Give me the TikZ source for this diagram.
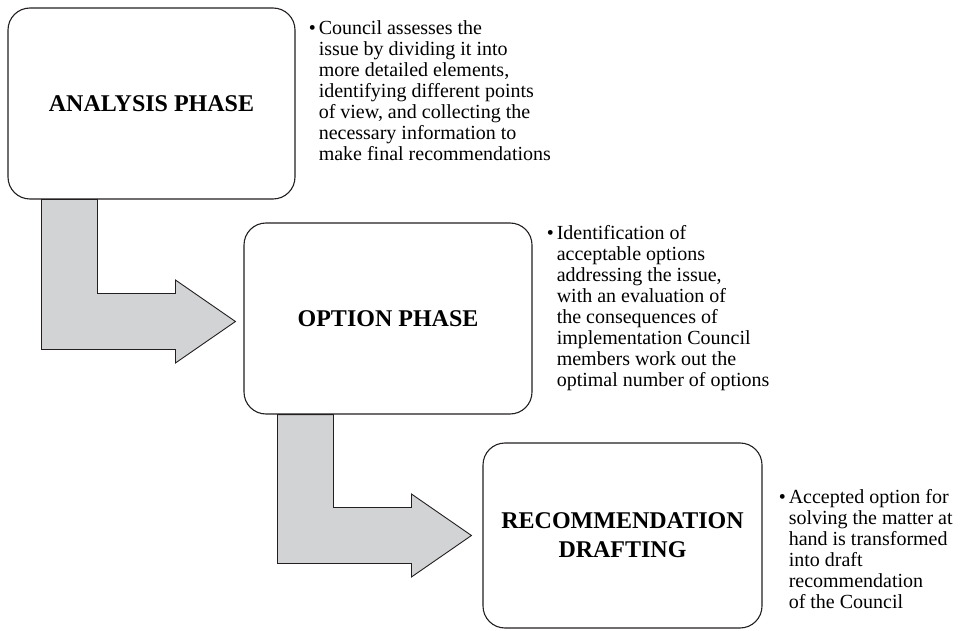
\documentclass[tikz,border=0pt]{standalone}
\usepackage{fontspec}
\setmainfont{Liberation Serif}
\usepackage{xcolor}
\usetikzlibrary{positioning, calc}

\definecolor{elbowgray}{RGB}{209,211,212}
\definecolor{inkline}{RGB}{35,31,32}

\tikzset{
  phase/.style={draw=inkline, line width=1.1pt, rounded corners=22pt, fill=white,
    align=center, inner sep=0pt, font=\fontsize{24}{29}\selectfont\bfseries},
  note/.style={anchor=north west, inner sep=0pt, font=\fontsize{20}{21}\selectfont},
  elbow/.style={draw=inkline, line width=0.9pt, fill=elbowgray, line join=miter}
}

\begin{document}
\begin{tikzpicture}[x=1pt, y=-1pt]
\useasboundingbox (0,0) rectangle (975,631);

% phase boxes
\node[phase, minimum width=287pt, minimum height=191pt] (ana) at (151.5,103.5) {ANALYSIS PHASE};
\node[phase, minimum width=288pt, minimum height=191pt] (opt) at (388,318.5) {OPTION PHASE};
\node[phase, minimum width=279pt, minimum height=185pt] (rec) at (622.5,535.5) {RECOMMENDATION\\DRAFTING};

% bent arrows between phases
\foreach \src/\dst/\gap/\dy in {ana/opt/8/3, opt/rec/11/0}
  \draw[elbow] ($(\src.south west)+(90,0)$)
    |- ($(\dst.west)+(-\gap-60,\dy-28)$) -- ++(0,-13.5)
    -- ($(\dst.west)+(-\gap,\dy)$)
    -- ($(\dst.west)+(-\gap-60,\dy+41.5)$) -- ++(0,-13.5)
    -| ($(\src.south west)+(34,0)$) -- cycle;

% notes
\node[note] (anatxt) at ($(ana.north east)+(13,12)$) {\textbullet\hspace{3pt}\begin{tabular}[t]{@{}l@{}}
  Council assesses the\\ issue by dividing it into\\ more detailed elements,\\
  identifying different points\\ of view, and collecting the\\ necessary information to\\
  make final recommendations\end{tabular}};
\node[note] (opttxt) at ($(opt.north east)+(14,2)$) {\textbullet\hspace{3pt}\begin{tabular}[t]{@{}l@{}}
  Identification of\\ acceptable options\\ addressing the issue,\\ with an evaluation of\\
  the consequences of\\ implementation Council\\ members work out the\\
  optimal number of options\end{tabular}};
\node[note] (rectxt) at ($(rec.north east)+(16,46)$) {\textbullet\hspace{3pt}\begin{tabular}[t]{@{}l@{}}
  Accepted option for\\ solving the matter at\\ hand is transformed\\ into draft\\
  recommendation\\ of the Council\end{tabular}};
\end{tikzpicture}
\end{document}
